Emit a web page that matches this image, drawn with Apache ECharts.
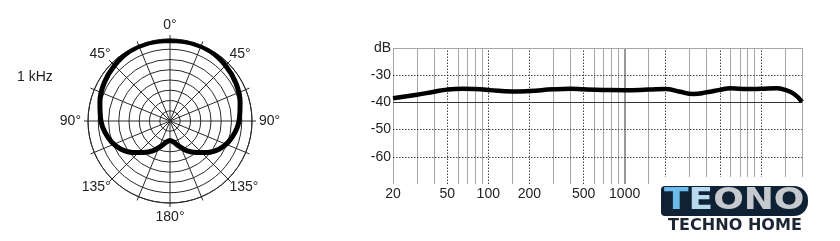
<!DOCTYPE html>
<html><head><meta charset="utf-8">
<script src="https://cdn.jsdelivr.net/npm/echarts@6/dist/echarts.min.js"></script>
<style>html,body{margin:0;padding:0;background:#fff}#c{width:840px;height:241px}</style>
</head><body><div id="c"></div>
<script>
// ---- Polar pattern (1 kHz) ----
const polarAngles = [0,15,30,45,60,75,90,100,110,120,130,140,150,160,170,180,190,200,210,220,230,240,250,260,270,285,300,315,330,345,360];
const polarLevels = [39.3,39.5,39.3,38.3,37.1,35.4,33.7,32.2,30.2,27.6,23.9,20.0,16.8,13.2,10.5,9.5,10.5,13.2,16.8,20.0,23.9,27.6,30.2,32.2,33.7,35.4,37.1,38.3,39.3,39.5,39.3];
const axisAngleLabels = [0,90,180,270];
const diagAngleLabels = [45,135,225,315];

// ---- Frequency response ----
const freqs = [20,30,40,50,65,80,100,150,200,300,400,500,700,1000,1500,2000,2500,3200,4000,5000,6000,8000,10000,13000,15000,17500,20000];
const response = [-38.5,-37.2,-36.1,-35.3,-35.0,-35.1,-35.4,-36.0,-35.8,-35.2,-35.0,-35.2,-35.4,-35.5,-35.3,-35.1,-36.0,-36.9,-36.3,-35.4,-34.8,-35.1,-35.0,-34.8,-35.4,-36.9,-39.8];
const xTickLabels = [20,50,100,200,500,1000];
const yTickLabels = {'-20':'dB','-30':'-30','-40':'-40','-50':'-50','-60':'-60'};
const gridSolidFreqs = [20,30,40,60,70,80,90,150,300,400,600,700,800,900,1500,3000,4000,6000,7000,8000,9000,15000,20000];
const gridDottedFreqs = [50,100,200,500,2000,5000,10000];
const gridDarkFreqs = [1000];
const levelDotted = [-30,-50,-60];
const levelSolid = [-40];
const levelBorder = [-20];

// ---- Logo ----
const logoLetters = ['T','E','O','N','O'];
const logoColors = ['#6cbbe9','#b9d9ee','#c6cacf','#c6cacf','#c6cacf'];
const logoAdvance = [0.682,0.683,0.850,0.837,0.850];

const FONT = 'Liberation Sans';
const chart = echarts.init(document.getElementById('c'), null, {renderer:'canvas'});

function markSeries(name, key, values, lineStyle){
  return {
    type:'line', name, data:[], xAxisIndex:0, yAxisIndex:0, silent:true, z:1,
    markLine:{silent:true, symbol:['none','none'], label:{show:false}, animation:false,
      lineStyle, emphasis:{disabled:true},
      data: values.map(v => ({[key]: v}))}
  };
}

function degFmt(list){
  return function(v){
    const r = Math.round(v*10)/10;
    if (r === 360) return '';
    if (list.indexOf(r) < 0) return '';
    const a = r > 180 ? 360 - r : r;
    return a + '°';
  };
}

const logoGraphics = [];
(function(){
  const fs = 30, sx = 1.2;
  let x = 664;
  logoLetters.forEach((ch, i) => {
    logoGraphics.push({type:'text', x:x, y:201, z:102, scaleX:sx,
      style:{text:ch, fontSize:fs, fontWeight:'bold', fontFamily:'DejaVu Sans', verticalAlign:'middle', align:'left', fill:logoColors[i]}});
    x += logoAdvance[i]*fs*sx;
  });
})();

const option = {
  animation:false,
  backgroundColor:'#fff',
  polar:[
    {center:[170,121], radius:86},
    {center:[170,121], radius:82}
  ],
  angleAxis:[
    {polarIndex:0, type:'value', min:0, max:360, interval:22.5, startAngle:90, clockwise:true,
     axisLine:{show:false}, axisTick:{show:false},
     splitLine:{show:true, lineStyle:{color:'#2a2a2a', width:1}},
     axisLabel:{show:true, margin:3, fontSize:14, fontFamily:FONT, color:'#222', formatter:degFmt(axisAngleLabels)}},
    {polarIndex:1, type:'value', min:0, max:360, interval:45, startAngle:90, clockwise:true,
     axisLine:{show:true, lineStyle:{color:'#2a2a2a', width:1}}, axisTick:{show:false},
     splitLine:{show:false},
     axisLabel:{show:true, margin:2, fontSize:14, fontFamily:FONT, color:'#222', formatter:degFmt(diagAngleLabels)}}
  ],
  radiusAxis:[
    {polarIndex:0, type:'value', min:0, max:42, axisLine:{show:false}, axisTick:{show:false}, axisLabel:{show:false}, splitLine:{show:false}},
    {polarIndex:1, type:'value', min:0, max:40, interval:5, axisLine:{show:false}, axisTick:{show:false}, axisLabel:{show:false},
     splitLine:{show:true, lineStyle:{color:'#2a2a2a', width:1}}}
  ],
  grid:{left:393, right:38, top:48, bottom:57, containLabel:false},
  xAxis:{type:'log', logBase:10, min:20, max:20000,
    axisLine:{show:false}, axisTick:{show:false}, splitLine:{show:false}, minorSplitLine:{show:false},
    axisLabel:{show:true, customValues:xTickLabels, margin:3, fontSize:14, fontFamily:FONT, color:'#222',
      formatter:v => String(Math.round(v))}},
  yAxis:{type:'value', min:-70, max:-20, interval:10,
    axisLine:{show:false}, axisTick:{show:false}, splitLine:{show:false},
    axisLabel:{margin:2, fontSize:14, fontFamily:FONT, color:'#222',
      formatter:v => yTickLabels[String(v)] || ''}},
  series:[
    markSeries('gridSolid','xAxis',gridSolidFreqs,{color:'#a6a6a6', width:1, type:'solid'}),
    markSeries('gridDotted','xAxis',gridDottedFreqs,{color:'#444', width:1, type:[1.5,1.5]}),
    markSeries('gridDark','xAxis',gridDarkFreqs,{color:'#777', width:1.5, type:'solid'}),
    markSeries('levelDotted','yAxis',levelDotted,{color:'#444', width:1, type:[1.5,1.5]}),
    markSeries('levelSolid','yAxis',levelSolid,{color:'#333', width:1, type:'solid'}),
    markSeries('levelBorder','yAxis',levelBorder,{color:'#a6a6a6', width:1, type:'solid'}),
    {type:'line', name:'response', xAxisIndex:0, yAxisIndex:0, z:10, smooth:0.5, symbol:'none',
     lineStyle:{color:'#000', width:4.5}, data: freqs.map((f,i)=>[f, response[i]])},
    {type:'line', name:'polar', coordinateSystem:'polar', polarIndex:1, z:10, smooth:0.35, symbol:'none',
     lineStyle:{color:'#000', width:5}, data: polarAngles.map((a,i)=>[polarLevels[i], a])}
  ],
  graphic:[
    {type:'text', left:17, top:70, z:50, style:{text:'1 kHz', fontSize:14, fontFamily:FONT, fill:'#222'}},
    {type:'rect', shape:{x:653, y:177, width:187, height:64}, z:100, style:{fill:'#fff'}},
    {type:'rect', shape:{x:661, y:186, width:147, height:30, r:[4,14,14,4]}, z:101, style:{fill:'#0f2235'}}
  ].concat(logoGraphics).concat([
    {type:'text', x:735, y:226, z:102, scaleX:1.07,
     style:{text:'TECHNO HOME', fontSize:15, fontWeight:'bold', fontFamily:'DejaVu Sans', align:'center', verticalAlign:'middle', fill:'#1c2533'}}
  ])
};
chart.setOption(option);
</script></body></html>
